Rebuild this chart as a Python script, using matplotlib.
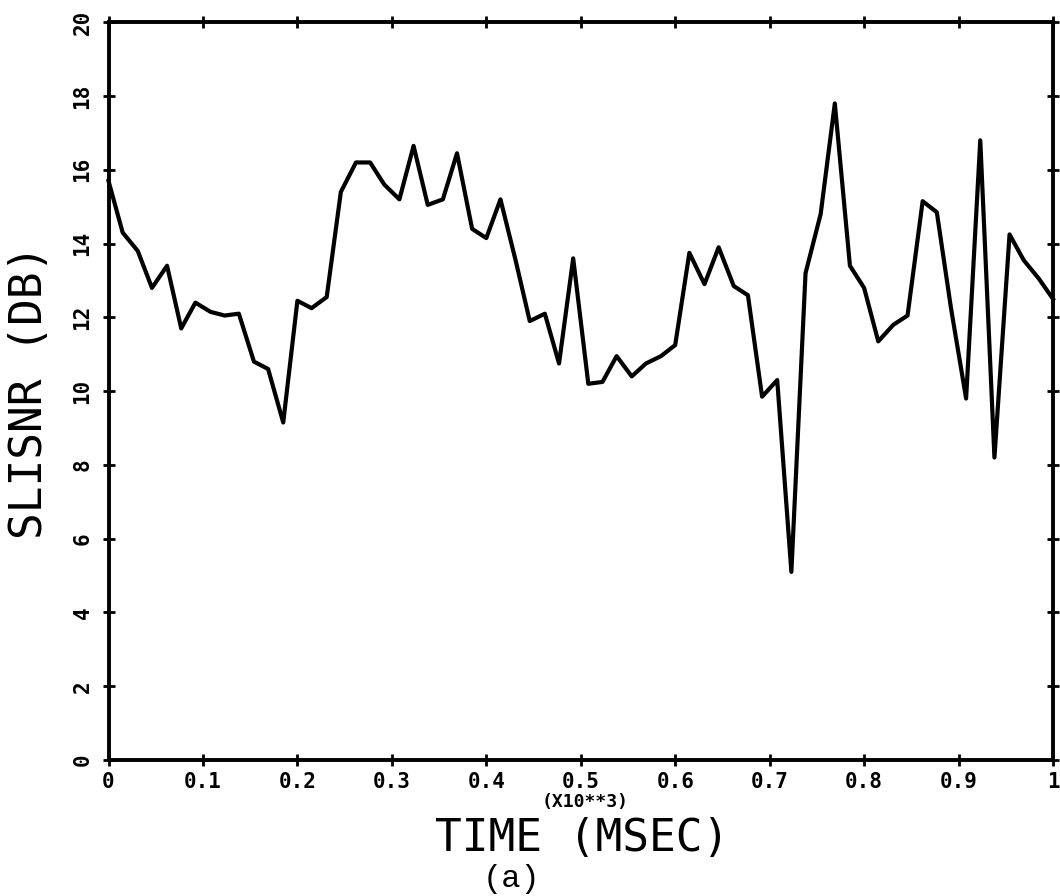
import matplotlib.pyplot as plt

# frame times (x10**3 msec) and segmental SNR (dB)
time = [0.000, 0.015, 0.031, 0.046, 0.062, 0.077, 0.092, 0.108, 0.123, 0.138,
        0.154, 0.169, 0.185, 0.200, 0.215, 0.231, 0.246, 0.262, 0.277, 0.292,
        0.308, 0.323, 0.338, 0.354, 0.369, 0.385, 0.400, 0.415, 0.431, 0.446,
        0.462, 0.477, 0.492, 0.508, 0.523, 0.538, 0.554, 0.569, 0.585, 0.600,
        0.615, 0.631, 0.646, 0.662, 0.677, 0.692, 0.708, 0.723, 0.738, 0.754,
        0.769, 0.785, 0.800, 0.815, 0.831, 0.846, 0.862, 0.877, 0.892, 0.908,
        0.923, 0.938, 0.954, 0.969, 0.985, 1.000]
slisnr = [15.7, 14.3, 13.8, 12.8, 13.4, 11.7, 12.4, 12.15, 12.05, 12.1,
          10.8, 10.6, 9.15, 12.45, 12.25, 12.55, 15.4, 16.2, 16.2, 15.6,
          15.2, 16.65, 15.05, 15.2, 16.45, 14.4, 14.15, 15.2, 13.55, 11.9,
          12.1, 10.75, 13.6, 10.2, 10.25, 10.95, 10.4, 10.75, 10.95, 11.25,
          13.75, 12.9, 13.9, 12.85, 12.6, 9.85, 10.3, 5.1, 13.2, 14.8,
          17.8, 13.4, 12.8, 11.35, 11.8, 12.05, 15.15, 14.85, 12.25, 9.8,
          16.8, 8.2, 14.25, 13.55, 13.05, 12.5]

xticks = [0, 0.1, 0.2, 0.3, 0.4, 0.5, 0.6, 0.7, 0.8, 0.9, 1.0]
xtick_labels = ['0', '0.1', '0.2', '0.3', '0.4', '0.5', '0.6', '0.7', '0.8', '0.9', '1']
yticks = [0, 2, 4, 6, 8, 10, 12, 14, 16, 18, 20]
ytick_labels = ['0', '2', '4', '6', '8', '10', '12', '14', '16', '18', '20']

W, H = 1060., 896.
mono = 'DejaVu Sans Mono'

fig = plt.figure(figsize=(10.6, 8.96), dpi=100)
ax = fig.add_axes([108.5 / W, 1 - 760 / H, 944.5 / W, 737.7 / H])

ax.plot(time, slisnr, 'k', lw=3, solid_joinstyle='round', clip_on=False)

ax.set_xlim(0, 1)
ax.set_ylim(0, 20)

# axes frame: ticks on all four sides crossing the spines
for s in ax.spines.values():
    s.set_linewidth(2.8)
ax.tick_params(which='both', direction='inout', length=9, width=2,
               top=True, right=True, color='k')
ax.set_xticks(xticks)
ax.set_xticklabels(xtick_labels, fontfamily=mono, fontweight='bold', fontsize=15)
ax.set_yticks(yticks)
ax.set_yticklabels(ytick_labels, fontfamily=mono, fontweight='bold', fontsize=15,
                   rotation=90, va='center')
ax.tick_params(axis='x', pad=4)
ax.tick_params(axis='y', pad=7)

# labels
fig.text(30 / W, 1 - 392 / H, 'SLISNR (DB)', rotation=90, ha='center', va='center',
         fontsize=32, family=mono)
fig.text(585 / W, 1 - 802 / H, '(X10**3)', ha='center', va='center',
         fontsize=13, fontweight='bold', family=mono)
fig.text(582 / W, 1 - 838 / H, 'TIME (MSEC)', ha='center', va='center',
         fontsize=32, family=mono)
fig.text(511 / W, 1 - 879 / H, '(a)', ha='center', va='center',
         fontsize=23, family='Liberation Mono')

fig.savefig('out.png', dpi=100)
